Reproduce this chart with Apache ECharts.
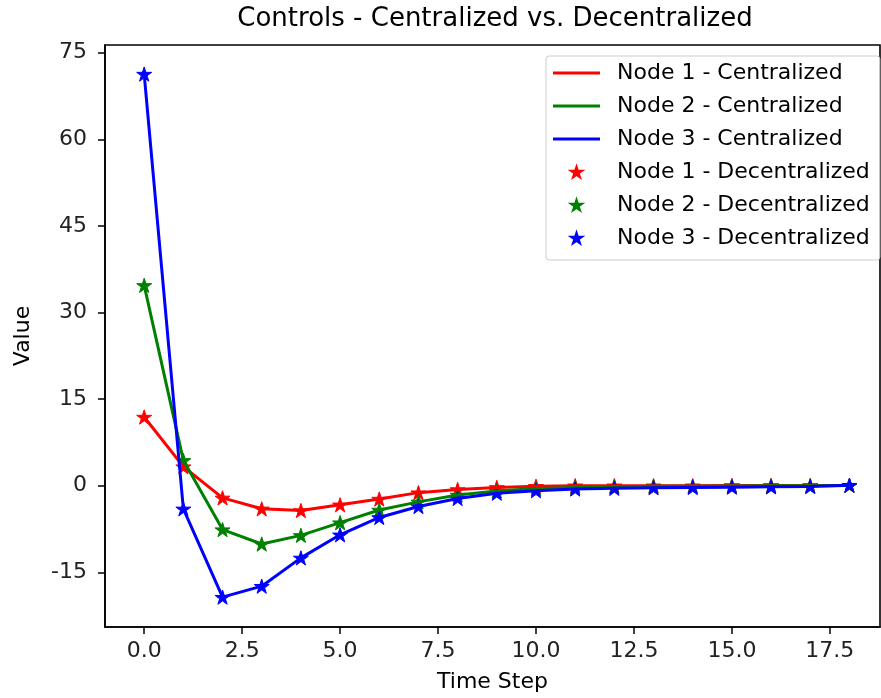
<!DOCTYPE html>
<html>
<head>
<meta charset="utf-8">
<script src="https://cdn.jsdelivr.net/npm/echarts@6/dist/echarts.min.js"></script>
<style>
  html, body { margin: 0; padding: 0; background: #fff; }
  #chart { width: 881px; height: 698px; }
</style>
</head>
<body>
<div id="chart"></div>
<script>
// data
const timeSteps = [0, 1, 2, 3, 4, 5, 6, 7, 8, 9, 10, 11, 12, 13, 14, 15, 16, 17, 18];
const node1Centralized = [11.9, 3.3, -2.1, -4.0, -4.3, -3.3, -2.3, -1.2, -0.65, -0.3, -0.1, 0.0, 0.0, 0.0, 0.0, 0.05, 0.05, 0.05, 0.05];
const node2Centralized = [34.7, 4.4, -7.6, -10.1, -8.6, -6.4, -4.2, -2.8, -1.6, -0.9, -0.5, -0.3, -0.2, -0.1, -0.1, -0.05, 0.0, 0.0, 0.05];
const node3Centralized = [71.3, -4.0, -19.3, -17.4, -12.5, -8.5, -5.5, -3.6, -2.2, -1.3, -0.86, -0.57, -0.45, -0.35, -0.3, -0.25, -0.2, -0.15, 0.1];
const node1Decentralized = [11.9, 3.3, -2.1, -4.0, -4.3, -3.3, -2.3, -1.2, -0.65, -0.3, -0.1, 0.0, 0.0, 0.0, 0.0, 0.05, 0.05, 0.05, 0.05];
const node2Decentralized = [34.7, 4.4, -7.6, -10.1, -8.6, -6.4, -4.2, -2.8, -1.6, -0.9, -0.5, -0.3, -0.2, -0.1, -0.1, -0.05, 0.0, 0.0, 0.05];
const node3Decentralized = [71.3, -4.0, -19.3, -17.4, -12.5, -8.5, -5.5, -3.6, -2.2, -1.3, -0.86, -0.57, -0.45, -0.35, -0.3, -0.25, -0.2, -0.15, 0.1];
const xTicks = [0, 2.5, 5, 7.5, 10, 12.5, 15, 17.5];
const yTicks = [-15, 0, 15, 30, 45, 60, 75];

const font = 'DejaVu Sans';
const colors = ['#ff0000', '#008000', '#0000ff'];
// matplotlib style '*' marker
const star = 'path://M100,0 L77.55,69.1 L4.89,69.1 L63.67,111.8 L41.22,180.9 L100,138.2 L158.78,180.9 L136.33,111.8 L195.11,69.1 L122.45,69.1 Z';
// flat bar used as legend handle for the lines
const lineHandle = 'path://M0,0 L47,0 L47,3 L0,3 Z';

function pairs(values) {
  return timeSteps.map((t, i) => [t, values[i]]);
}

function lineSeries(name, values, color) {
  return {
    name: name,
    type: 'line',
    data: pairs(values),
    symbol: 'none',
    showSymbol: false,
    color: color,
    lineStyle: { color: color, width: 3 },
    z: 3,
    animation: false,
  };
}

function starSeries(name, values, color) {
  return {
    name: name,
    type: 'scatter',
    data: pairs(values),
    symbol: star,
    symbolSize: 15,
    symbolKeepAspect: true,
    color: color,
    itemStyle: { color: color, opacity: 1, borderColor: color, borderWidth: 1 },
    z: 2,
    animation: false,
  };
}

let chart = echarts.init(document.getElementById('chart'));
let option = {
  backgroundColor: '#fff',
  title: {
    text: 'Controls - Centralized vs. Decentralized',
    left: 495,
    top: 6,
    padding: 0,
    textAlign: 'center',
    textStyle: { fontFamily: font, fontSize: 26, fontWeight: 'normal', color: '#000' },
  },
  legend: {
    orient: 'vertical',
    left: 546,
    top: 56,
    padding: [5, 10, 10, 7],
    itemWidth: 47,
    itemHeight: 11,
    itemGap: 9,
    symbolKeepAspect: true,
    borderColor: '#cccccc',
    borderWidth: 1,
    borderRadius: 3,
    backgroundColor: 'rgba(255,255,255,0.8)',
    textStyle: { fontFamily: font, fontSize: 22, color: '#000', lineHeight: 24, padding: [0, 0, 0, 12] },
    data: [
      { name: 'Node 1 - Centralized', icon: lineHandle },
      { name: 'Node 2 - Centralized', icon: lineHandle },
      { name: 'Node 3 - Centralized', icon: lineHandle },
      'Node 1 - Decentralized', 'Node 2 - Decentralized', 'Node 3 - Decentralized',
    ],
  },
  grid: {
    left: 105,
    right: 1,
    top: 45,
    bottom: 70,
    show: true,
    borderColor: '#000',
    borderWidth: 1.6,
  },
  xAxis: {
    type: 'value',
    min: -1.0,
    max: 18.78,
    name: 'Time Step',
    nameLocation: 'middle',
    nameGap: 44,
    nameTextStyle: { fontFamily: font, fontSize: 22, color: '#000' },
    axisLine: { show: true, onZero: false, lineStyle: { color: '#000', width: 1.6 } },
    axisTick: { show: true, length: 7, customValues: xTicks, lineStyle: { color: '#000', width: 1.5 } },
    axisLabel: {
      customValues: xTicks,
      margin: 13,
      fontFamily: font,
      fontSize: 22,
      color: '#222',
      formatter: v => v.toFixed(1),
    },
    splitLine: { show: false },
  },
  yAxis: {
    type: 'value',
    min: -24.47,
    max: 76.33,
    name: 'Value',
    nameLocation: 'middle',
    nameGap: 71,
    nameRotate: 90,
    nameTextStyle: { fontFamily: font, fontSize: 22, color: '#000' },
    axisLine: { show: true, onZero: false, lineStyle: { color: '#000', width: 1.6 } },
    axisTick: { show: true, length: 7, customValues: yTicks, lineStyle: { color: '#000', width: 1.5 } },
    axisLabel: {
      customValues: yTicks,
      margin: 18,
      fontFamily: font,
      fontSize: 22,
      color: '#222',
    },
    splitLine: { show: false },
  },
  series: [
    lineSeries('Node 1 - Centralized', node1Centralized, colors[0]),
    lineSeries('Node 2 - Centralized', node2Centralized, colors[1]),
    lineSeries('Node 3 - Centralized', node3Centralized, colors[2]),
    starSeries('Node 1 - Decentralized', node1Decentralized, colors[0]),
    starSeries('Node 2 - Decentralized', node2Decentralized, colors[1]),
    starSeries('Node 3 - Decentralized', node3Decentralized, colors[2]),
  ],
};
chart.setOption(option);
</script>
</body>
</html>
